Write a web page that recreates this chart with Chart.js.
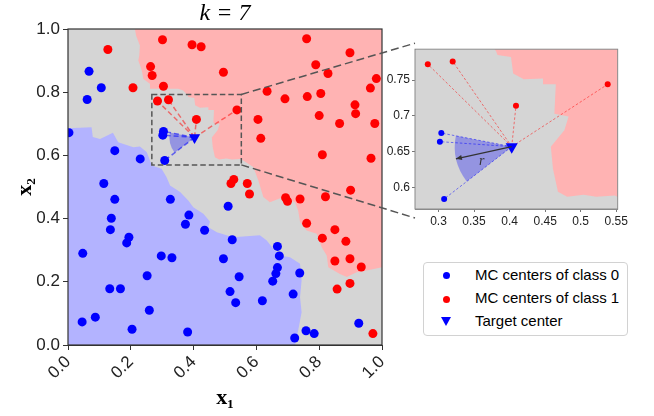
<!DOCTYPE html>
<html><head><meta charset="utf-8">
<script src="https://cdn.jsdelivr.net/npm/chart.js@4.4.1/dist/chart.umd.min.js"></script>
<style>
html,body{margin:0;padding:0;background:#fff;}
#wrap{position:relative;width:654px;height:416px;overflow:hidden;background:#fff;}
canvas{position:absolute;}
#main{left:0;top:0;}
#overlay{left:0;top:0;}
#inset{left:380px;top:40px;}
#legend{position:absolute;left:423px;top:262px;width:205px;height:74px;box-sizing:border-box;border:1px solid #d2d2d2;border-radius:4px;background:#fff;font-family:"Liberation Sans",Arial,sans-serif;font-size:15px;color:#000;}
.row{position:absolute;left:0;width:200px;height:20px;line-height:20px;white-space:nowrap;}
.row .t{position:absolute;left:51px;top:0;}
.dot{position:absolute;left:19px;top:7px;width:7px;height:7px;border-radius:50%;}
.tri{position:absolute;left:17px;top:6px;width:0;height:0;border-left:5px solid transparent;border-right:5px solid transparent;border-top:9px solid #0000ff;}
</style></head>
<body>
<div id="wrap">
<canvas id="main" width="654" height="416"></canvas>
<canvas id="overlay" width="654" height="416"></canvas>
<canvas id="inset" width="250" height="190"></canvas>
<div id="legend">
  <div class="row" style="top:2px"><span class="dot" style="background:#0000ff;top:7px"></span><span class="t">MC centers of class 0</span></div>
  <div class="row" style="top:25px"><span class="dot" style="background:#ff0000;top:8px"></span><span class="t">MC centers of class 1</span></div>
  <div class="row" style="top:48px"><span class="tri" style="top:6px"></span><span class="t">Target center</span></div>
</div>
</div>
<script>
// ---------- data ----------
const mainTicks = [0, 0.2, 0.4, 0.6, 0.8, 1.0];
const insetXTicks = [0.3, 0.35, 0.4, 0.45, 0.5, 0.55];
const insetXLabels = ["0.3", "0.35", "0.4", "0.45", "0.5", "0.55"];
const insetYTicks = [0.6, 0.65, 0.7, 0.75];
const insetYLabels = ["0.6", "0.65", "0.7", "0.75"];
const zoomX = [0.267, 0.552];
const zoomY = [0.570, 0.793];

const class0X = [0.067,0.106,0.061,0.003,0.304,0.302,0.149,0.230,0.308,0.114,0.149,0.326,0.385,0.374,0.435,0.138,0.135,0.194,0.187,0.047,0.297,0.331,0.252,0.133,0.167,0.259,0.087,0.045,0.204,0.381,0.510,0.523,0.667,0.673,0.495,0.667,0.662,0.738,0.545,0.652,0.516,0.717,0.534,0.619,0.926,0.758,0.784,0.722];
const class0Y = [0.866,0.814,0.777,0.672,0.676,0.664,0.615,0.589,0.584,0.511,0.461,0.461,0.411,0.382,0.363,0.401,0.365,0.341,0.323,0.290,0.282,0.276,0.219,0.178,0.178,0.110,0.088,0.073,0.050,0.041,0.439,0.333,0.312,0.282,0.273,0.245,0.226,0.228,0.216,0.202,0.169,0.161,0.134,0.140,0.069,0.045,0.036,0.022];

const class1X = [0.127,0.301,0.395,0.424,0.263,0.268,0.304,0.207,0.285,0.320,0.409,0.760,0.898,0.789,0.828,0.495,0.982,0.963,0.634,0.691,0.762,0.805,0.914,0.916,0.538,0.800,0.605,0.865,0.977,0.614,0.810,0.965,0.528,0.519,0.571,0.578,0.693,0.699,0.739,0.820,0.900,0.760,0.850,0.810,0.885,0.850,0.898,0.934,0.857,0.898,0.971];
const class1Y = [0.935,0.966,0.950,0.944,0.881,0.853,0.819,0.814,0.772,0.776,0.714,0.969,0.925,0.887,0.859,0.863,0.843,0.813,0.803,0.779,0.786,0.796,0.760,0.732,0.744,0.726,0.714,0.701,0.701,0.654,0.602,0.591,0.524,0.511,0.511,0.478,0.466,0.455,0.462,0.469,0.490,0.385,0.365,0.338,0.328,0.266,0.273,0.247,0.177,0.195,0.036];

const targetX = [0.403];
const targetY = [0.657];
const nnClass0 = [4, 5, 8];        // indices of class-0 neighbours
const nnClass1 = [8, 9, 10, 24];   // indices of class-1 neighbours
const radiusR = 0.08;
const arrowEnd = [0.3245, 0.640];

const redRegionX = [0.213,0.217,0.229,0.227,0.224,0.235,0.240,0.261,0.261,0.351,0.367,0.379,0.381,0.383,0.402,0.405,0.420,0.447,0.447,0.465,0.463,0.483,0.477,0.458,0.461,0.468,0.481,0.504,0.522,0.548,0.558,0.590,0.606,0.622,0.643,0.686,0.723,0.733,0.739,0.760,0.792,0.808,0.824,0.829,0.866,0.888,0.919,0.951,1.0,1.0];
const redRegionY = [1.0,0.979,0.948,0.916,0.900,0.869,0.842,0.827,0.811,0.811,0.805,0.793,0.790,0.785,0.782,0.759,0.751,0.752,0.744,0.744,0.703,0.699,0.680,0.657,0.626,0.594,0.587,0.590,0.587,0.589,0.584,0.563,0.521,0.468,0.452,0.468,0.452,0.426,0.389,0.362,0.352,0.309,0.283,0.246,0.225,0.215,0.230,0.236,0.246,1.0];
const blueRegionX = [0,0.075,0.079,0.102,0.143,0.160,0.208,0.229,0.251,0.261,0.267,0.298,0.314,0.325,0.357,0.383,0.399,0.431,0.452,0.447,0.474,0.526,0.611,0.633,0.654,0.675,0.707,0.739,0.744,0.739,0.744,0.733,0.723,0];
const blueRegionY = [0.686,0.689,0.658,0.652,0.672,0.642,0.626,0.628,0.610,0.584,0.568,0.558,0.531,0.505,0.484,0.457,0.436,0.415,0.391,0.373,0.357,0.341,0.347,0.331,0.304,0.283,0.278,0.257,0.204,0.151,0.104,0.046,0,0];

// ---------- styles ----------
const GRAY = '#d5d5d5', RED_FILL = '#ffb3b3', BLUE_FILL = '#b3b3ff';
const SANS = '"Liberation Sans", Arial, sans-serif';
const SERIF = '"Liberation Serif", "DejaVu Serif", serif';

const pts = (xs, ys) => xs.map((v, i) => ({x: v, y: ys[i]}));

function polygon(ctx, sx, sy, xs, ys, fill) {
  ctx.beginPath();
  xs.forEach((v, i) => {
    const px = sx.getPixelForValue(v), py = sy.getPixelForValue(ys[i]);
    if (i === 0) ctx.moveTo(px, py); else ctx.lineTo(px, py);
  });
  ctx.closePath();
  ctx.fillStyle = fill;
  ctx.fill();
}

function sector(chart) {
  const {ctx, scales: {x, y}} = chart;
  const cx = x.getPixelForValue(targetX[0]), cy = y.getPixelForValue(targetY[0]);
  const r = Math.abs(x.getPixelForValue(targetX[0] + radiusR) - cx);
  const angs = nnClass0.map(i => {
    let a = Math.atan2(y.getPixelForValue(class0Y[i]) - cy, x.getPixelForValue(class0X[i]) - cx);
    if (a < 0) a += Math.PI * 2;
    return a;
  });
  ctx.beginPath();
  ctx.moveTo(cx, cy);
  ctx.arc(cx, cy, r, Math.min(...angs), Math.max(...angs));
  ctx.closePath();
  ctx.fillStyle = 'rgba(0,0,255,0.3)';
  ctx.fill();
}

const regionPlugin = {
  id: 'regions',
  beforeDatasetsDraw(chart) {
    const {ctx, chartArea: a, scales: {x, y}} = chart;
    ctx.save();
    ctx.beginPath(); ctx.rect(a.left, a.top, a.width, a.height); ctx.clip();
    ctx.fillStyle = GRAY; ctx.fillRect(a.left, a.top, a.width, a.height);
    polygon(ctx, x, y, redRegionX, redRegionY, RED_FILL);
    polygon(ctx, x, y, blueRegionX, blueRegionY, BLUE_FILL);
    sector(chart);
    ctx.restore();
  }
};

function framePlugin(color, width) {
  return {
    id: 'frame',
    afterDraw(chart) {
      const {ctx, chartArea: a} = chart;
      ctx.save();
      ctx.strokeStyle = color; ctx.lineWidth = width;
      ctx.strokeRect(a.left, a.top, a.width, a.height);
      ctx.restore();
    }
  };
}

const zoomBoxPlugin = {
  id: 'zoombox',
  afterDatasetsDraw(chart) {
    const {ctx, scales: {x, y}} = chart;
    const x0 = x.getPixelForValue(zoomX[0]), x1 = x.getPixelForValue(zoomX[1]);
    const y0 = y.getPixelForValue(zoomY[0]), y1 = y.getPixelForValue(zoomY[1]);
    ctx.save();
    ctx.strokeStyle = '#555'; ctx.lineWidth = 1.5; ctx.setLineDash([5.5, 3]);
    ctx.strokeRect(x0, y1, x1 - x0, y0 - y1);
    ctx.restore();
  }
};

const arrowPlugin = {
  id: 'arrow',
  afterDatasetsDraw(chart) {
    const {ctx, scales: {x, y}} = chart;
    const cx = x.getPixelForValue(targetX[0]), cy = y.getPixelForValue(targetY[0]);
    const ex = x.getPixelForValue(arrowEnd[0]), ey = y.getPixelForValue(arrowEnd[1]);
    const ang = Math.atan2(ey - cy, ex - cx);
    ctx.save();
    ctx.strokeStyle = '#333'; ctx.fillStyle = '#333'; ctx.lineWidth = 1.2;
    ctx.beginPath(); ctx.moveTo(cx, cy); ctx.lineTo(ex, ey); ctx.stroke();
    const h = 6, w = 2.6;
    ctx.beginPath();
    ctx.moveTo(ex, ey);
    ctx.lineTo(ex - h * Math.cos(ang) + w * Math.sin(ang), ey - h * Math.sin(ang) - w * Math.cos(ang));
    ctx.lineTo(ex - h * Math.cos(ang) - w * Math.sin(ang), ey - h * Math.sin(ang) + w * Math.cos(ang));
    ctx.closePath(); ctx.fill();
    ctx.font = 'italic 14px ' + SERIF;
    ctx.textAlign = 'center'; ctx.textBaseline = 'middle';
    ctx.fillText('r', (cx + ex) / 2 - 2, (cy + ey) / 2 + 9);
    ctx.restore();
  }
};

function neighborDatasets(width, dash, redC, blueC) {
  const t = {x: targetX[0], y: targetY[0]};
  const ds = [];
  nnClass1.forEach(i => ds.push({data: [t, {x: class1X[i], y: class1Y[i]}], showLine: true, borderColor: redC, borderWidth: width, borderDash: dash, pointRadius: 0, clip: 0, order: 10}));
  nnClass0.forEach(i => ds.push({data: [t, {x: class0X[i], y: class0Y[i]}], showLine: true, borderColor: blueC, borderWidth: width, borderDash: dash, pointRadius: 0, clip: 0, order: 10}));
  return ds;
}

function pointDatasets(r, tr) {
  return [
    {label: 'MC centers of class 0', data: pts(class0X, class0Y), backgroundColor: '#0000ff', borderWidth: 0, pointRadius: r, clip: 0, order: 2},
    {label: 'MC centers of class 1', data: pts(class1X, class1Y), backgroundColor: '#ff0000', borderWidth: 0, pointRadius: r, clip: 0, order: 2},
    {label: 'Target center', data: pts(targetX, targetY), backgroundColor: '#0000ff', borderColor: '#0000ff', borderWidth: 0, pointStyle: 'triangle', rotation: 180, pointRadius: tr, clip: 0, order: 1}
  ];
}

// ---------- main chart ----------
const mainChart = new Chart(document.getElementById('main'), {
  type: 'scatter',
  data: {datasets: [...neighborDatasets(1.5, [5, 3], 'rgba(255,0,0,0.5)', 'rgba(0,0,255,0.55)'), ...pointDatasets(4.5, 6.5)]},
  options: {
    responsive: false, animation: false, devicePixelRatio: 1,
    layout: {padding: {left: 0, right: 272, top: 0, bottom: 0}},
    plugins: {
      legend: {display: false}, tooltip: {enabled: false},
      title: {display: true, text: 'k = 7', fullSize: false, color: '#000',
        font: {family: SERIF, style: 'italic', size: 24, weight: 'normal', lineHeight: 1.0},
        padding: {top: 2, bottom: 3}}
    },
    scales: {
      x: {type: 'linear', min: 0, max: 1,
        afterBuildTicks: s => { s.ticks = mainTicks.map(v => ({value: v})); },
        afterFit: s => { s.height = 71; },
        ticks: {autoSkip: false, maxRotation: 45, minRotation: 45, color: '#222', padding: 2,
          font: {family: SANS, size: 17}, callback: v => Number(v).toFixed(1)},
        grid: {display: true, drawOnChartArea: false, tickLength: 5, color: '#333', tickColor: '#333'},
        border: {display: true, color: '#333'},
        title: {display: true, text: 'x₁', color: '#000', font: {family: SERIF, weight: 'bold', size: 22}, padding: {top: 0, bottom: 4}}
      },
      y: {type: 'linear', min: 0, max: 1,
        afterBuildTicks: s => { s.ticks = mainTicks.map(v => ({value: v})); },
        afterFit: s => { s.width = 68; },
        ticks: {autoSkip: false, color: '#222', padding: 3, font: {family: SANS, size: 17}, callback: v => Number(v).toFixed(1)},
        grid: {display: true, drawOnChartArea: false, tickLength: 5, color: '#333', tickColor: '#333'},
        border: {display: true, color: '#333'},
        title: {display: true, text: 'x₂', color: '#000', font: {family: SERIF, weight: 'bold', size: 22}, padding: {top: 12, bottom: 0}}
      }
    }
  },
  plugins: [regionPlugin, zoomBoxPlugin, framePlugin('#333', 1.2)]
});

// ---------- inset chart ----------
const insetChart = new Chart(document.getElementById('inset'), {
  type: 'scatter',
  data: {datasets: [...neighborDatasets(0.9, [2.5, 2], 'rgba(255,0,0,0.55)', 'rgba(0,0,255,0.55)'), ...pointDatasets(3, 7)]},
  options: {
    responsive: false, animation: false, devicePixelRatio: 1,
    layout: {padding: {left: 0, right: 11, top: 9, bottom: 0}},
    plugins: {legend: {display: false}, tooltip: {enabled: false}, title: {display: false}},
    scales: {
      x: {type: 'linear', min: zoomX[0], max: zoomX[1],
        afterBuildTicks: s => { s.ticks = insetXTicks.map(v => ({value: v})); },
        afterFit: s => { s.height = 21; },
        ticks: {autoSkip: false, maxRotation: 0, color: '#222', padding: 2, font: {family: SANS, size: 12},
          callback: (v) => insetXLabels[insetXTicks.findIndex(t => Math.abs(t - v) < 1e-9)]},
        grid: {display: true, drawOnChartArea: false, tickLength: 3, color: '#777'},
        border: {display: true, color: '#8a8a8a'}
      },
      y: {type: 'linear', min: zoomY[0], max: zoomY[1],
        afterBuildTicks: s => { s.ticks = insetYTicks.map(v => ({value: v})); },
        afterFit: s => { s.width = 35; },
        ticks: {autoSkip: false, color: '#222', padding: 2, font: {family: SANS, size: 12},
          callback: (v) => insetYLabels[insetYTicks.findIndex(t => Math.abs(t - v) < 1e-9)]},
        grid: {display: true, drawOnChartArea: false, tickLength: 3, color: '#777'},
        border: {display: true, color: '#8a8a8a'}
      }
    }
  },
  plugins: [regionPlugin, arrowPlugin, framePlugin('#8a8a8a', 1)]
});

// ---------- connector lines between zoom box and inset ----------
(function () {
  const ctx = document.getElementById('overlay').getContext('2d');
  const mx = mainChart.scales.x, my = mainChart.scales.y;
  const bx = mx.getPixelForValue(zoomX[1]);
  const byTop = my.getPixelForValue(zoomY[1]), byBot = my.getPixelForValue(zoomY[0]);
  const ia = insetChart.chartArea, ox = 380, oy = 40;
  ctx.strokeStyle = '#555'; ctx.lineWidth = 1.5; ctx.setLineDash([8, 4]);
  ctx.beginPath(); ctx.moveTo(bx, byTop); ctx.lineTo(ox + ia.left, oy + ia.top - 6); ctx.stroke();
  ctx.beginPath(); ctx.moveTo(bx, byBot); ctx.lineTo(ox + ia.left, oy + ia.bottom + 9); ctx.stroke();
})();
</script>
</body></html>
